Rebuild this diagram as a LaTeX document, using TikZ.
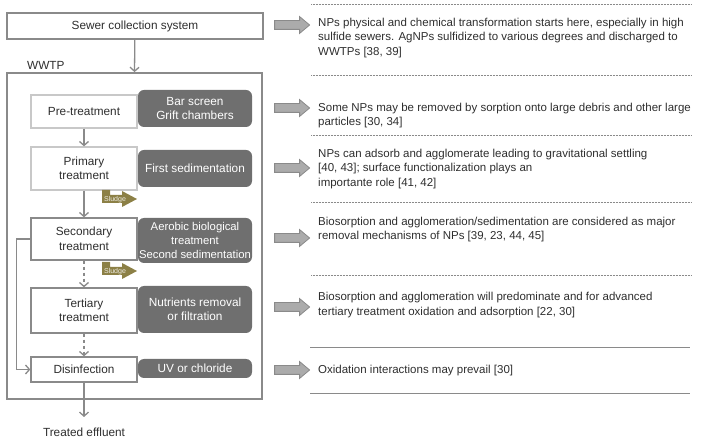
\documentclass[tikz,border=0pt]{standalone}
\usepackage{fontspec}
\setmainfont{Liberation Sans}
\usetikzlibrary{arrows.meta,shapes.arrows}

\definecolor{lineg}{HTML}{8A8A8A}
\definecolor{lightg}{HTML}{C8C8C8}
\definecolor{darkbox}{HTML}{6F6F6F}
\definecolor{arrowg}{HTML}{ABABAB}
\definecolor{sludgec}{RGB}{140,128,70}
\definecolor{txt}{HTML}{2E2E2E}

\tikzset{
  stage/.style={draw=lineg, line width=1.3pt, fill=white, minimum width=106pt,
    align=center, inner sep=0pt, text=txt},
  lightstage/.style={stage, draw=lightg},
  process/.style={fill=darkbox, rounded corners=6pt, minimum width=114pt,
    align=center, inner sep=0pt, text=white},
  flow/.style={draw=lineg, line width=1.3pt, -{Straight Barb[length=4pt,width=9pt]}},
  blockarrow/.style={single arrow, draw=lineg, fill=arrowg, line width=0.8pt,
    minimum height=35pt, inner sep=4pt, single arrow head extend=4pt,
    single arrow tip angle=80},
  note/.style={anchor=west, align=left, inner sep=0pt, text=txt,
    font=\fontsize{11.5}{14.5}\selectfont},
  sep/.style={draw=lineg, line width=0.5pt}
}

\begin{document}
\begin{tikzpicture}[x=1pt, y=-1pt, font=\fontsize{11.8}{14.5}\selectfont]
\useasboundingbox (0,0) rectangle (713,438);

% Sewer and plant frame
\node[stage, line width=1.6pt, minimum width=256pt, minimum height=26pt] (sewer) at (135,26) {Sewer collection system};
\node[draw=lineg, line width=1.8pt, minimum width=255pt, minimum height=326pt, inner sep=0pt] (wwtp) at (134.5,236) {};
\node[anchor=west, inner sep=0pt, text=txt] (wwtplabel) at (27,65) {WWTP};

% Treatment stages
\node[lightstage, minimum height=33pt] (pre) at (84,111.5) {Pre-treatment};
\node[lightstage, minimum height=43pt] (prim) at (84,168.5) {Primary\\treatment};
\node[stage, minimum height=42pt] (sec) at (84,239) {Secondary\\treatment};
\node[stage, minimum height=45pt] (ter) at (84,310.5) {Tertiary\\treatment};
\node[stage, minimum height=25pt] (dis) at (84,369.5) {Disinfection};

% Processes
\node[process, minimum height=37pt] (bar) at (195,108.5) {Bar screen\\Grift chambers};
\node[process, minimum height=37pt] (first) at (195,168.5) {First sedimentation};
\node[process, minimum height=45pt, font=\fontsize{11.3}{14}\selectfont] (aer) at (195,240.5) {Aerobic biological\\treatment\\Second sedimentation};
\node[process, minimum height=47pt] (nut) at (195,309.5) {Nutrients removal\\or filtration};
\node[process, minimum height=19pt] (uv) at (195,368.5) {UV or chloride};

\node[inner sep=0pt, text=txt] (effluent) at (84,432) {Treated effluent};
\coordinate (out) at (84,417);

% Flow
\draw[flow] (sewer) -- (wwtp.north);
\draw[flow] (pre) -- (prim);
\draw[flow] (prim) -- (sec);
\draw[flow, dashed] (sec) -- (ter);
\draw[flow, dashed] (ter) -- (dis);
\draw[flow] (dis) -- (out);
\draw[flow] (sec.west) -- ++(-14,0) |- (dis.west);

% Sludge
\foreach \sy in {0,72}{
  \fill[sludgec, shift={(0,\sy)}] (102,190) -- (110,190) -- (110,195) -- (122,195) -- (122,191)
    -- (137,199) -- (122,207) -- (122,203) -- (102,203) -- cycle;
  \node[text=white!85!sludgec, font=\fontsize{7}{8}\selectfont, inner sep=0pt] at (115,200+\sy) {Sludge};
}

% Notes
\foreach \ny [count=\i] in {25,108,168,238,307,370}
  \node[blockarrow] (arr\i) at (289.5,\ny) {};

\node[note] (n1) at (318,38) {NPs physical and chemical transformation starts here, especially in high\\sulfide sewers. AgNPs sulfidized to various degrees and discharged to\\WWTPs [38, 39]};
\node[note] (n2) at (318,115.5) {Some NPs may be removed by sorption onto large debris and other large\\particles [30, 34]};
\node[note] (n3) at (318,169) {NPs can adsorb and agglomerate leading to gravitational settling\\{}[40, 43]; surface functionalization plays an\\importante role [41, 42]};
\node[note] (n4) at (318,229.5) {Biosorption and agglomeration/sedimentation are considered as major\\removal mechanisms of NPs [39, 23, 44, 45]};
\node[note] (n5) at (318,305) {Biosorption and agglomeration will predominate and for advanced\\tertiary treatment oxidation and adsorption [22, 30]};
\node[note] (n6) at (318,371) {Oxidation interactions may prevail [30]};

% Separators
\foreach \ly in {4,75,135,202,275}
  \draw[sep, densely dotted] (311,\ly) -- (692,\ly);
\foreach \ly in {347,393}
  \draw[sep] (310,\ly) -- (690,\ly);

\end{tikzpicture}
\end{document}
